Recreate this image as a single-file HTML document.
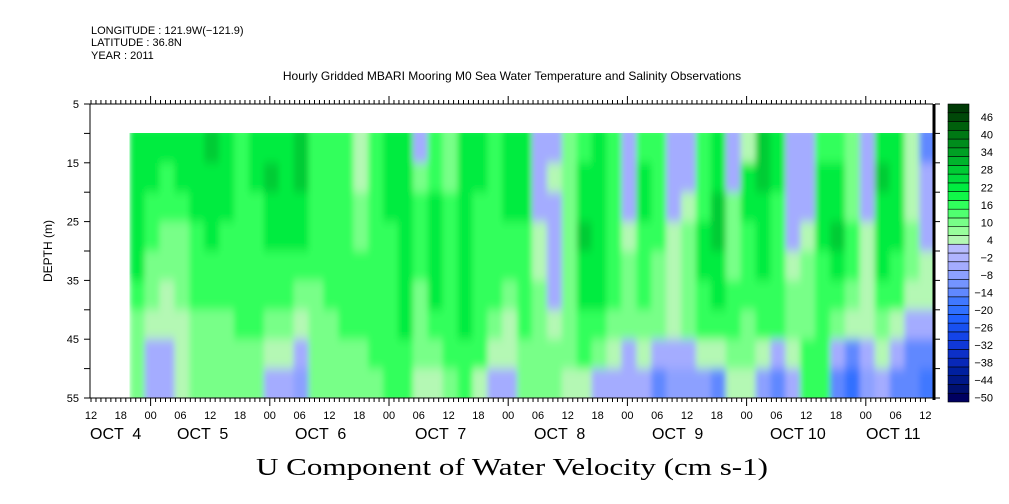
<!DOCTYPE html>
<html><head><meta charset="utf-8">
<style>
html,body{margin:0;padding:0;background:#fff;}
svg{display:block;font-family:"Liberation Sans",sans-serif;}
</style></head>
<body>
<svg id="chart" width="1009" height="504" viewBox="0 0 1009 504" xmlns="http://www.w3.org/2000/svg">
  <defs>
    <filter id="soft" x="0" y="0" width="1" height="1">
      <feGaussianBlur stdDeviation="3 5" edgeMode="duplicate"/>
    </filter>
    <clipPath id="heatclip"><rect x="129" y="133" width="805" height="265"/></clipPath>
  </defs>
  <g font-size="11" fill="#000">
    <text x="91" y="34">LONGITUDE : 121.9W(−121.9)</text>
    <text x="91" y="46">LATITUDE : 36.8N</text>
    <text x="91" y="59">YEAR : 2011</text>
  </g>
  <text x="512" y="80" text-anchor="middle" font-size="12">Hourly Gridded MBARI Mooring M0 Sea Water Temperature and Salinity Observations</text>
  <g clip-path="url(#heatclip)"><g id="heat" filter="url(#soft)"></g></g>
  <g id="axes"></g>
  <g id="cbar"></g>
  <text x="512" y="475" text-anchor="middle" font-family="'Liberation Serif',serif" font-size="24" textLength="512" lengthAdjust="spacingAndGlyphs">U Component of Water Velocity (cm s-1)</text>
  <text transform="translate(52,251) rotate(-90)" text-anchor="middle" font-size="12">DEPTH (m)</text>
</svg>
<script>
// data: columns every 3 hours starting at hour 7.8 after Oct 4 12:00, depth bands centered 12.5..52.5 m
const startHour = 7.8;
const stepHours = 3;
const bandDepths = [12.5,17.5,22.5,27.5,32.5,37.5,42.5,47.5,52.5];
const columns = [
[22,22,22,22,22,16,10,10,10],[22,22,16,16,10,10,4,-4,-4],[22,16,16,10,10,4,4,-4,-4],[22,22,16,10,10,10,4,4,4],
[22,22,22,16,16,16,10,10,10],[28,22,22,22,16,16,10,10,10],[22,22,22,16,16,16,10,10,10],[16,16,16,16,16,16,16,10,10],
[22,22,16,16,16,16,16,10,10],[22,28,22,22,16,16,10,4,-4],[22,22,22,22,16,16,10,4,-4],[28,28,22,22,16,10,4,-4,-8],
[16,16,16,16,16,10,10,10,10],[16,16,16,16,16,16,10,10,10],[16,16,16,16,16,16,16,10,10],[4,4,10,10,16,16,16,10,10],
[16,16,16,16,16,16,16,16,10],[22,22,22,16,16,16,16,16,16],[22,22,22,22,22,22,22,16,16],[-4,10,16,16,16,10,10,10,4],
[16,16,22,22,22,22,16,10,4],[10,10,16,16,16,16,16,16,10],[22,22,22,22,22,22,22,16,16],[22,22,16,16,16,16,16,16,4],
[16,16,16,16,16,16,10,4,-4],[22,22,22,16,16,10,4,4,-4],[22,22,22,16,16,16,16,10,10],[-4,-4,-4,4,4,10,10,10,10],
[-4,4,-4,-4,-4,-4,4,10,10],[10,10,10,10,10,10,10,10,4],[16,22,22,28,22,22,16,16,4],[22,22,22,22,22,22,16,10,-4],
[16,16,16,16,16,16,10,4,-4],[-4,-4,-4,4,10,10,10,-4,-4],[16,22,22,16,16,16,10,4,-4],[16,16,16,16,10,10,10,-4,-12],
[-4,-4,-4,4,4,4,4,-4,-8],[-4,-4,4,10,10,10,10,-4,-8],[16,16,16,22,22,16,16,4,-8],[22,22,28,28,22,22,16,4,-12],
[-4,-4,10,10,10,16,16,10,4],[4,22,22,16,16,16,10,10,4],[28,28,22,22,22,16,16,4,-8],[22,22,16,16,16,16,16,-4,-12],
[-4,-4,-4,-4,4,10,10,4,-4],[-4,-4,-4,4,10,10,10,16,16],[16,22,22,22,16,16,16,16,16],[16,22,22,28,22,16,10,-4,-12],
[10,10,10,16,16,10,4,-12,-20],[-4,-4,-4,4,4,4,4,-4,-8],[22,28,22,22,22,16,10,4,-4],[22,22,22,22,16,16,4,-4,-12],
[4,4,4,10,10,4,-4,-12,-12],[-12,-4,-4,-4,4,4,-4,-12,-16]
];
const depthTicks = [5,15,25,35,45,55];
const hourLabels = ["12","18","00","06"];
const dayLabels = ["OCT  4","OCT  5","OCT  6","OCT  7","OCT  8","OCT  9","OCT 10","OCT 11"];
const dayLabelX = [90,177,295,415,534,652,770,866];
const cbarLabels = [46,40,34,28,22,16,10,4,-2,-8,-14,-20,-26,-32,-38,-44,-50];

const NS="http://www.w3.org/2000/svg";
function mk(tag,attrs,parent){const e=document.createElementNS(NS,tag);for(const k in attrs)e.setAttribute(k,attrs[k]);parent.appendChild(e);return e;}
const X0=91, PXH=29.8/6, XR=933;
function xOfHour(h){return X0+h*PXH;}
function yOfDepth(d){return 104+(d-5)*294/50;}

const cols=["#000060","#001070","#001888","#0020a0","#0828b8","#0c30c8","#1038d8","#1444e8","#1850f0","#2060ff","#3070ff","#4078ff","#6088ff","#7494ff","#8ca0ff","#a4acff","#b0b4ff","#b8bcff",
"#b4f8b4","#98ff9c","#78ff88","#50ff70","#30ff5c","#10f848","#00ec40","#00dc3c","#00cc34","#00b42c","#00a024","#008c1c","#007814","#00600c","#004808","#003a06"];
function colorOf(v){let i=Math.floor((v+50)/3);if(i<0)i=0;if(i>=cols.length)i=cols.length-1;return cols[i];}

const heat=document.getElementById('heat');
columns.forEach((col,ci)=>{
  const h0=startHour+ci*stepHours; const x0=xOfHour(h0); const x1=(ci===columns.length-1)?XR+6:xOfHour(h0+stepHours);
  col.forEach((v,bi)=>{
    const d=bandDepths[bi]; let y0=yOfDepth(d-2.5), y1=yOfDepth(d+2.5);
    if(bi===0)y0-=8; if(bi===bandDepths.length-1)y1+=8;
    const r=mk('rect',{x:x0.toFixed(1),y:y0.toFixed(1),width:(x1-x0+0.5).toFixed(1),height:(y1-y0+0.5).toFixed(1),fill:colorOf(v)},heat);
    
    
  });
});

const ax=document.getElementById('axes');
const YT=104,YB=398;
mk('line',{x1:90,y1:YT,x2:90,y2:YB,stroke:'#000'},ax);
mk('line',{x1:90,y1:YT,x2:XR,y2:YT,stroke:'#000'},ax);
mk('line',{x1:90,y1:YB,x2:XR,y2:YB,stroke:'#000'},ax);
mk('line',{x1:XR+1,y1:YT,x2:XR+1,y2:YB+2,stroke:'#000','stroke-width':3},ax);
for(let d=5;d<=55;d+=5){
  const y=yOfDepth(d);
  mk('line',{x1:84,y1:y,x2:90,y2:y,stroke:'#000'},ax);
  mk('line',{x1:XR+2,y1:y,x2:XR+7,y2:y,stroke:'#000'},ax);
}
depthTicks.forEach(d=>{
  const t=mk('text',{x:79,y:yOfDepth(d)+4,'text-anchor':'end','font-size':11},ax);t.textContent=d;
  
  
});
for(let h=0;h<=168;h++){
  const x=xOfHour(h); if(x>XR-4)break;
  const major=(h%24)===12;
  mk('line',{x1:x,y1:YT,x2:x,y2:YT-(major?8:4),stroke:'#000'},ax);
  mk('line',{x1:x,y1:YB,x2:x,y2:YB+(major?8:4),stroke:'#000'},ax);
}
for(let i=0;i<=28;i++){
  const t=mk('text',{x:xOfHour(i*6),y:419,'text-anchor':'middle','font-size':11},ax);t.textContent=hourLabels[i%4];
  
  
}
dayLabels.forEach((s,i)=>{
  const t=mk('text',{x:dayLabelX[i],y:439,'font-size':16},ax);t.textContent=s;
  t.style.whiteSpace='pre';
  
  
});

const cb=document.getElementById('cbar');
const CX=948,CW=21,CT=104,CB=402;const bh=(CB-CT)/cols.length;
cols.forEach((c,i)=>{
  const y=CB-(i+1)*bh;
  const r=mk('rect',{x:CX,y:y.toFixed(2),width:CW,height:bh.toFixed(2),fill:c,stroke:'#000','stroke-width':0.6},cb);
  
  
});
cbarLabels.forEach(v=>{
  const i=(v+50)/3; const y=CB-i*bh-bh/2;
  const t=mk('text',{x:993,y:y+4,'text-anchor':'end','font-size':11},cb);t.textContent=v<0?'−'+(-v):v;
  
  
});
</script>
</body></html>
